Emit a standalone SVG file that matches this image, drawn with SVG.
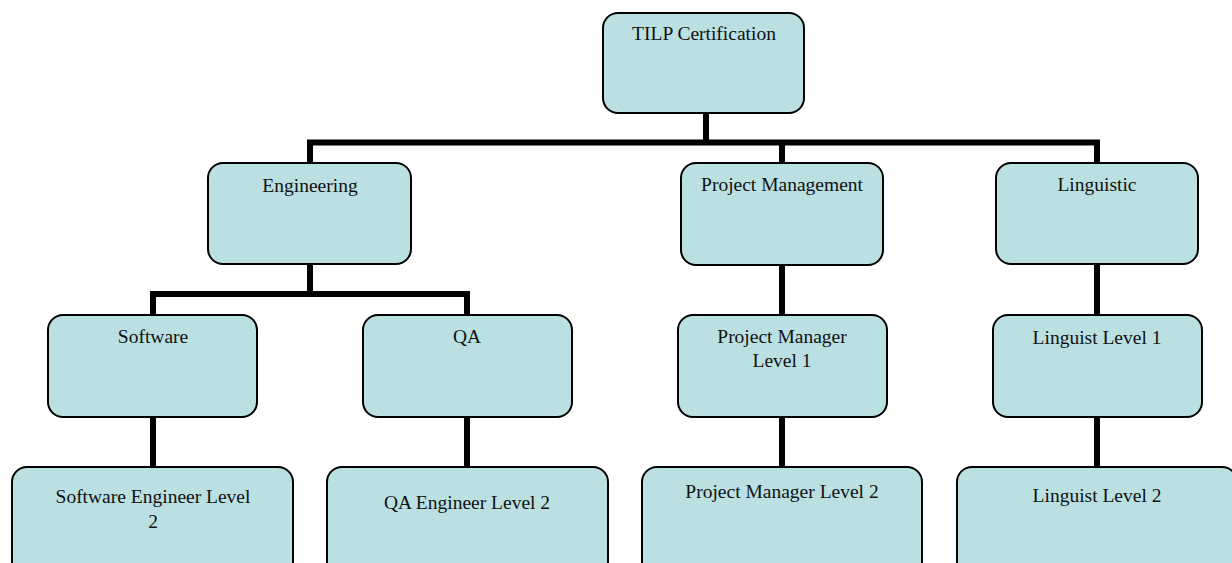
<svg xmlns="http://www.w3.org/2000/svg" width="1232" height="563" viewBox="0 0 1232 563">
<style>
.box{fill:#BAE0E2;stroke:#000;stroke-width:2}
.t{font-family:"Liberation Serif","Times New Roman",serif;font-size:19.5px;fill:#111;text-anchor:middle}
.c{stroke:#000;stroke-width:6;fill:none;stroke-linecap:butt}
</style>
<rect width="1232" height="563" fill="#fff"/>
<g id="connectors">
<path class="c" d="M706,113 V142.5"/>
<path class="c" d="M307,142.5 H1100"/>
<path class="c" d="M310,142.5 V163 M782,142.5 V163 M1097,142.5 V163"/>
<path class="c" d="M310,264 V294"/>
<path class="c" d="M150,294 H470"/>
<path class="c" d="M153,294 V315 M467,294 V315"/>
<path class="c" d="M153,417 V467 M467,417 V467"/>
<path class="c" d="M782,265 V315 M782,417 V467"/>
<path class="c" d="M1097,264 V315 M1097,417 V467"/>
</g>
<g id="tilp"><rect class="box" x="603" y="13" width="201" height="100" rx="15"/><text class="t" x="704" y="40">TILP Certification</text></g>
<g id="engineering"><rect class="box" x="208" y="163" width="203" height="101" rx="15"/><text class="t" x="310" y="192">Engineering</text></g>
<g id="pm"><rect class="box" x="681" y="163" width="202" height="102" rx="15"/><text class="t" x="782" y="191">Project Management</text></g>
<g id="linguistic"><rect class="box" x="996" y="163" width="202" height="101" rx="15"/><text class="t" x="1097" y="191">Linguistic</text></g>
<g id="software"><rect class="box" x="48" y="315" width="209" height="102" rx="15"/><text class="t" x="153" y="343">Software</text></g>
<g id="qa"><rect class="box" x="363" y="315" width="209" height="102" rx="15"/><text class="t" x="467" y="343">QA</text></g>
<g id="pm1"><rect class="box" x="678" y="315" width="209" height="102" rx="15"/><text class="t" x="782" y="343">Project Manager</text><text class="t" x="782" y="367">Level 1</text></g>
<g id="ling1"><rect class="box" x="993" y="315" width="209" height="102" rx="15"/><text class="t" x="1097" y="344">Linguist Level 1</text></g>
<g id="se2"><rect class="box" x="12" y="467" width="281" height="110" rx="15"/><text class="t" x="153" y="503">Software Engineer Level</text><text class="t" x="153" y="528">2</text></g>
<g id="qa2"><rect class="box" x="327" y="467" width="281" height="110" rx="15"/><text class="t" x="467" y="509">QA Engineer Level 2</text></g>
<g id="pm2"><rect class="box" x="642" y="467" width="280" height="110" rx="15"/><text class="t" x="782" y="498">Project Manager Level 2</text></g>
<g id="ling2"><rect class="box" x="957" y="467" width="280" height="110" rx="15"/><text class="t" x="1097" y="502">Linguist Level 2</text></g>
</svg>
